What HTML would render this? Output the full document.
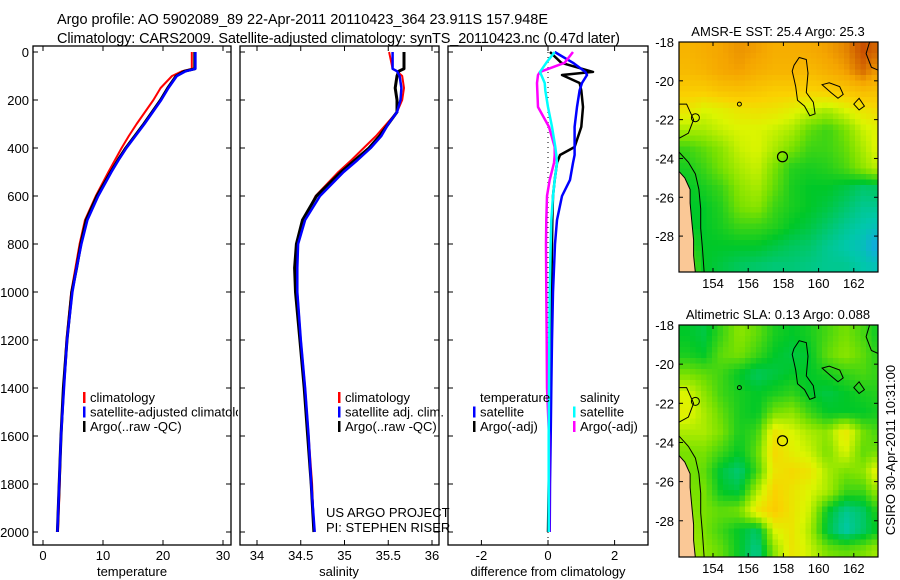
<!DOCTYPE html>
<html><head><meta charset="utf-8"><style>
html,body{margin:0;padding:0;background:#fff;}
svg{display:block;font-family:"Liberation Sans",sans-serif;}
</style></head><body>
<svg id="fig" width="900" height="580" viewBox="0 0 900 580">
<text x="57" y="24" font-size="14.5" textLength="491">Argo profile: AO 5902089_89 22-Apr-2011 20110423_364 23.911S 157.948E</text>
<text x="57" y="43" font-size="14.5" textLength="563">Climatology: CARS2009. Satellite-adjusted climatology: synTS_20110423.nc (0.47d later)</text>
<defs>
<clipPath id="c1"><rect x="33" y="46" width="205" height="499"/></clipPath>
<clipPath id="c2"><rect x="240" y="46" width="199" height="499"/></clipPath>
<clipPath id="c3"><rect x="448" y="46" width="200" height="499"/></clipPath>
<clipPath id="m1"><rect x="679" y="42" width="199" height="230"/></clipPath>
<clipPath id="m2"><rect x="679" y="325" width="199" height="232"/></clipPath>
</defs>
<g id="g1"></g>
<g id="g2"></g>
<g id="g3"></g>
<g id="gm1"></g>
<g id="gm2"></g>
<text transform="translate(895,450) rotate(-90)" text-anchor="middle" font-size="13">CSIRO 30-Apr-2011 10:31:00</text>
</svg>
<script>
// ---- data ----
const depths = [0,70,80,100,150,200,250,300,350,400,450,500,600,700,800,900,1000,1200,1400,1600,1800,2000];
const tempArgo = [25.3,25.3,23.6,22.2,20.8,19.6,18.2,16.8,15.3,13.8,12.5,11.3,9.0,7.2,6.3,5.6,4.8,4.0,3.4,3.0,2.7,2.4];
const tempSat  = [25.4,25.4,23.8,22.3,20.9,19.7,18.3,16.9,15.4,13.9,12.6,11.4,9.2,7.4,6.4,5.6,4.9,4.0,3.5,3.0,2.7,2.4];
const tempClim = [24.8,24.8,23.2,21.5,19.6,18.4,17.0,15.6,14.3,13.1,12.0,10.9,8.8,7.0,6.1,5.4,4.7,3.9,3.4,3.0,2.8,2.5];
const salArgo = [35.68,35.68,35.62,35.6,35.58,35.6,35.6,35.5,35.4,35.28,35.12,34.96,34.68,34.52,34.45,34.43,34.44,34.49,34.54,34.58,34.62,34.65];
const salSat  = [35.55,35.55,35.6,35.63,35.65,35.64,35.6,35.5,35.42,35.3,35.15,34.99,34.72,34.55,34.47,34.46,34.46,34.5,34.55,34.59,34.62,34.66];
const salClim = [35.51,35.55,35.6,35.66,35.68,35.66,35.6,35.48,35.36,35.22,35.08,34.93,34.67,34.53,34.47,34.45,34.46,34.5,34.55,34.59,34.63,34.65];
const diffDepths = [0,45,83,96,129,160,229,312,396,429,462,533,600,700,800,1000,1200,1400,1600,1800,2000];
const dTempArgo = [0.06,0.4,1.35,0.42,0.95,1.0,1.05,1.0,0.8,0.36,0.27,0.2,0.15,0.13,0.12,0.1,0.08,0.06,0.04,0.02,0.0];
const dTempSat  = [0.2,0.75,1.12,1.17,1.02,0.95,0.87,0.8,0.8,0.8,0.75,0.66,0.42,0.27,0.21,0.15,0.12,0.1,0.08,0.06,0.05];
const dSalSat   = [0.2,-0.05,-0.24,-0.2,-0.1,-0.08,0.0,0.12,0.22,0.25,0.27,0.2,0.15,0.1,0.08,0.05,0.04,0.03,0.02,0.02,0.02];
const dSalArgo  = [0.75,0.5,-0.24,-0.3,-0.33,-0.32,-0.3,0.03,0.2,0.2,0.18,0.05,-0.03,-0.05,-0.06,-0.05,-0.04,-0.03,0.03,0.03,0.03];
const depthTicks = [0,200,400,600,800,1000,1200,1400,1600,1800,2000];
const tempTicks = [0,10,20,30];
const salTicks = [34,34.5,35,35.5,36];
const salTickLabels = ["34","34.5","35","35.5","36"];
const diffTicks = [-2,0,2];
const lonTicks = [154,156,158,160,162];
const latTicks = [18,20,22,24,26,28];
const sstGrid = [
[.70,.72,.75,.78,.76,.72,.72,.73,.76,.80,.90,.85],
[.68,.70,.74,.76,.72,.70,.70,.68,.72,.76,.85,.75],
[.62,.62,.65,.66,.64,.62,.62,.60,.62,.64,.68,.66],
[.55,.50,.52,.55,.56,.55,.52,.48,.45,.50,.55,.58],
[.45,.45,.48,.50,.50,.48,.45,.38,.35,.40,.48,.52],
[.35,.38,.42,.48,.50,.45,.40,.35,.35,.38,.45,.52],
[.32,.35,.40,.45,.48,.40,.33,.32,.33,.36,.42,.48],
[.30,.32,.35,.42,.45,.38,.32,.30,.30,.28,.25,.26],
[.30,.30,.33,.40,.42,.35,.32,.30,.28,.25,.22,.22],
[.30,.30,.32,.35,.35,.33,.30,.28,.25,.22,.20,.18],
[.35,.30,.30,.30,.30,.28,.26,.25,.22,.20,.18,.12],
[.40,.30,.28,.26,.25,.24,.24,.23,.22,.22,.20,.18]];
const slaGrid = [
[.30,.28,.35,.42,.38,.32,.30,.32,.36,.40,.36,.30],
[.32,.30,.38,.40,.35,.30,.28,.30,.38,.42,.38,.32],
[.40,.38,.35,.30,.26,.28,.30,.30,.32,.34,.36,.34],
[.50,.42,.35,.32,.30,.32,.34,.30,.28,.30,.32,.33],
[.52,.45,.38,.32,.30,.40,.42,.35,.30,.30,.30,.32],
[.45,.45,.40,.32,.35,.55,.50,.45,.42,.55,.40,.35],
[.40,.40,.35,.30,.38,.58,.52,.48,.40,.50,.38,.40],
[.40,.38,.28,.24,.35,.55,.58,.55,.45,.40,.42,.55],
[.40,.40,.30,.28,.45,.60,.55,.50,.45,.35,.35,.45],
[.42,.40,.38,.40,.55,.62,.55,.48,.30,.22,.25,.35],
[.45,.40,.35,.30,.25,.50,.55,.45,.28,.20,.25,.32],
[.45,.42,.38,.30,.22,.42,.55,.48,.40,.38,.40,.45]];

const NS="http://www.w3.org/2000/svg";
function mk(parent,tag,attrs,text){const e=document.createElementNS(NS,tag);for(const k in attrs)e.setAttribute(k,attrs[k]);if(text!==undefined)e.textContent=text;parent.appendChild(e);return e;}
const yD = d => 52 + d*0.24;
const xT = t => 43 + t*6;
const xS = s => 257 + (s-34)*87.5;
const xDf = v => 548 + v*33.3;

function frame(g,x0,x1,name){
  const r=mk(g,'rect',{x:x0,y:46,width:x1-x0,height:499,fill:'none',stroke:'#000','stroke-width':1.3});
  
  
  depthTicks.forEach(d=>{
    mk(g,'line',{x1:x0,x2:x0+5,y1:yD(d),y2:yD(d),stroke:'#000'});
    mk(g,'line',{x1:x1-5,x2:x1,y1:yD(d),y2:yD(d),stroke:'#000'});
  });
}
function line(g,xs,ds,fx,color,w,name,clip){
  const p=xs.map((v,i)=>fx(v).toFixed(1)+','+yD(ds[i]).toFixed(1)).join(' ');
  const e=mk(g,'polyline',{points:p,fill:'none',stroke:color,'stroke-width':w,'clip-path':'url(#'+clip+')','stroke-linejoin':'round'});
  
  
}
function xticks(g,ticks,labels,fx){
  ticks.forEach((t,i)=>{
    const x=fx(t);
    mk(g,'line',{x1:x,x2:x,y1:545,y2:540,stroke:'#000'});
    mk(g,'line',{x1:x,x2:x,y1:46,y2:51,stroke:'#000'});
    const e=mk(g,'text',{x:x,y:560,'text-anchor':'middle','font-size':13},labels[i]);
    
    
  });
}
function legend(g,x,y,items){
  items.forEach((it,i)=>{
    if(it[0]) mk(g,'rect',{x:x,y:y+i*14.5-6,width:2.5,height:11,fill:it[0]});
    const e=mk(g,'text',{x:x+7,y:y+i*14.5+4,'font-size':13},it[1]);
    
    
  });
}

const g1=document.getElementById('g1');
frame(g1,33,231,'temperature-panel');
depthTicks.forEach(d=>{const e=mk(g1,'text',{x:29,y:yD(d)+5,'text-anchor':'end','font-size':13},String(d));
  
  });
xticks(g1,tempTicks,tempTicks.map(String),xT);
line(g1,tempClim,depths,xT,'#f00',2,'temperature-climatology-line','c1');
line(g1,tempArgo,depths,xT,'#000',3,'temperature-argo-line','c1');
line(g1,tempSat,depths,xT,'#00f',2.5,'temperature-satellite-line','c1');
const lg1=mk(g1,'g',{'clip-path':'url(#c1)'});
legend(lg1,83,398,[['#f00','climatology'],['#00f','satellite-adjusted climatology'],['#000','Argo(..raw -QC)']]);
let t=mk(g1,'text',{x:132,y:576,'text-anchor':'middle','font-size':13},'temperature');



const g2=document.getElementById('g2');
frame(g2,240,439,'salinity-panel');
xticks(g2,salTicks,salTickLabels,xS);
line(g2,salClim,depths,xS,'#f00',2,'salinity-climatology-line','c2');
line(g2,salArgo,depths,xS,'#000',3,'salinity-argo-line','c2');
line(g2,salSat,depths,xS,'#00f',2.5,'salinity-satellite-line','c2');
legend(g2,338,398,[['#f00','climatology'],['#00f','satellite adj. clim.'],['#000','Argo(..raw -QC)']]);
t=mk(g2,'text',{x:326,y:517,'font-size':13},'US ARGO PROJECT');


t=mk(g2,'text',{x:326,y:532,'font-size':13},'PI: STEPHEN RISER');


t=mk(g2,'text',{x:339,y:576,'text-anchor':'middle','font-size':13},'salinity');



const g3=document.getElementById('g3');
frame(g3,448,648,'difference-panel');
xticks(g3,diffTicks,diffTicks.map(String),xDf);
mk(g3,'line',{x1:548,x2:548,y1:52,y2:545,stroke:'#000','stroke-dasharray':'1 4'});
line(g3,dTempArgo,diffDepths,xDf,'#000',2.5,'temp-diff-argo-line','c3');
line(g3,dTempSat,diffDepths,xDf,'#00f',2.5,'temp-diff-satellite-line','c3');
line(g3,dSalArgo,diffDepths,xDf,'#f0f',2.5,'sal-diff-argo-line','c3');
line(g3,dSalSat,diffDepths,xDf,'#0ff',2.5,'sal-diff-satellite-line','c3');
legend(g3,473,398,[[null,'temperature'],['#00f','satellite'],['#000','Argo(-adj)']]);
legend(g3,573,398,[[null,'salinity'],['#0ff','satellite'],['#f0f','Argo(-adj)']]);
t=mk(g3,'text',{x:548,y:576,'text-anchor':'middle','font-size':13},'difference from climatology');



const stops=[[0.1,[30,150,255]],[0.2,[0,200,170]],[0.3,[0,200,40]],[0.4,[120,225,0]],[0.5,[220,245,0]],[0.6,[250,210,0]],[0.75,[245,165,0]],[0.9,[200,80,0]]];
function cmap(v){
  if(v<=stops[0][0])return stops[0][1];
  for(let i=1;i<stops.length;i++){if(v<=stops[i][0]){const a=stops[i-1],b=stops[i];const f=(v-a[0])/(b[0]-a[0]);return a[1].map((c,k)=>Math.round(c+(b[1][k]-c)*f));}}
  return stops[stops.length-1][1];
}
function sample(grid,lon,lat){
  let cx=Math.min(Math.max(lon-152.5,0),11), cy=Math.min(Math.max(lat-18.5,0),11);
  const i0=Math.floor(cx),j0=Math.floor(cy),i1=Math.min(i0+1,11),j1=Math.min(j0+1,11);
  const fx=cx-i0,fy=cy-j0;
  return grid[j0][i0]*(1-fx)*(1-fy)+grid[j0][i1]*fx*(1-fy)+grid[j1][i0]*(1-fx)*fy+grid[j1][i1]*fx*fy;
}
function drawMap(gid,grid,top,bottom,title,clip,name){
  const g=document.getElementById(gid);
  const x0=679,x1=878;
  const lonX=l=>713+(l-154)*17.6;
  const latY=l=>top+(l-18)*((bottom-top)/11.85);
  const lonOf=x=>154+(x-713)/17.6, latOf=y=>18+(y-top)/((bottom-top)/11.85);
  const cg=mk(g,'g',{'clip-path':'url(#'+clip+')'});
  const cs=5.5;
  for(let y=top;y<bottom;y+=cs){for(let x=x0;x<x1;x+=cs){
    const v=sample(grid,lonOf(x+cs/2),latOf(y+cs/2));
    const c=cmap(v);
    mk(cg,'rect',{x:x.toFixed(1),y:y.toFixed(1),width:cs+0.3,height:cs+0.3,fill:'rgb('+c.join(',')+')'});
  }}
  const P=(pts)=>pts.map(p=>lonX(p[0]).toFixed(1)+','+latY(p[1]).toFixed(1)).join(' ');
  const land=mk(cg,'polygon',{points:P([[152,24.6],[152.4,25.0],[152.7,25.6],[152.7,26.3],[152.8,27.3],[152.9,28.2],[152.9,29.0],[153.0,29.9],[152,29.9]]),fill:'#fac896',stroke:'#000','stroke-width':1});
  
  
  mk(cg,'polyline',{points:P([[152,23.6],[152.6,24.2],[153.0,24.8],[153.2,25.6],[153.3,26.6],[153.3,27.6],[153.4,28.6],[153.5,29.9]]),fill:'none',stroke:'#000','stroke-width':1});
  mk(cg,'polyline',{points:P([[152,21.2],[152.5,21.2],[152.9,22.0],[152.6,22.7],[152.0,23.0]]),fill:'none',stroke:'#000','stroke-width':1});
  mk(cg,'polygon',{points:P([[158.6,19.2],[158.9,18.8],[159.3,18.9],[159.4,19.6],[159.3,20.6],[159.7,21.1],[159.8,21.7],[159.5,21.8],[159.2,21.3],[158.8,21.0],[158.7,20.3],[158.6,19.9],[158.5,19.5]]),fill:'none',stroke:'#000','stroke-width':1});
  mk(cg,'polygon',{points:P([[160.2,20.2],[160.6,20.1],[161.2,20.3],[161.4,20.7],[161.1,20.9],[160.7,20.6]]),fill:'none',stroke:'#000','stroke-width':1});
  mk(cg,'polygon',{points:P([[162.0,21.2],[162.3,20.9],[162.6,21.3],[162.3,21.5]]),fill:'none',stroke:'#000','stroke-width':1});
  mk(cg,'polyline',{points:P([[162.9,18],[162.7,18.6],[163.0,19.3],[163.5,19.5]]),fill:'none',stroke:'#000','stroke-width':1});
  mk(cg,'circle',{cx:lonX(155.5),cy:latY(21.2),r:2,fill:'none',stroke:'#000'});
  mk(cg,'circle',{cx:lonX(153.0),cy:latY(21.9),r:4,fill:'none',stroke:'#000'});
  const fl=mk(cg,'circle',{cx:lonX(157.948),cy:latY(23.911),r:5,fill:'none',stroke:'#000','stroke-width':1.2});
  
  
  const fr=mk(g,'rect',{x:x0,y:top,width:x1-x0,height:bottom-top,fill:'none',stroke:'#000','stroke-width':1.2});
  
  
  lonTicks.forEach(l=>{const x=lonX(l);
    mk(g,'line',{x1:x,x2:x,y1:bottom,y2:bottom-4,stroke:'#000'});
    mk(g,'line',{x1:x,x2:x,y1:top,y2:top+4,stroke:'#000'});
    const e=mk(g,'text',{x:x,y:bottom+16,'text-anchor':'middle','font-size':13},String(l));
    
    });
  latTicks.forEach(l=>{const y=latY(l);
    mk(g,'line',{x1:x0,x2:x0+4,y1:y,y2:y,stroke:'#000'});
    mk(g,'line',{x1:x1-4,x2:x1,y1:y,y2:y,stroke:'#000'});
    const e=mk(g,'text',{x:674,y:y+5,'text-anchor':'end','font-size':13},'-'+l);
    
    });
  const tt=mk(g,'text',{x:778,y:top-6,'text-anchor':'middle','font-size':13},title);
  
  
}
drawMap('gm1',sstGrid,42,272,'AMSR-E SST: 25.4 Argo: 25.3','m1','sst-map');
drawMap('gm2',slaGrid,325,557,'Altimetric SLA: 0.13 Argo: 0.088','m2','sla-map');
</script>
</body></html>
